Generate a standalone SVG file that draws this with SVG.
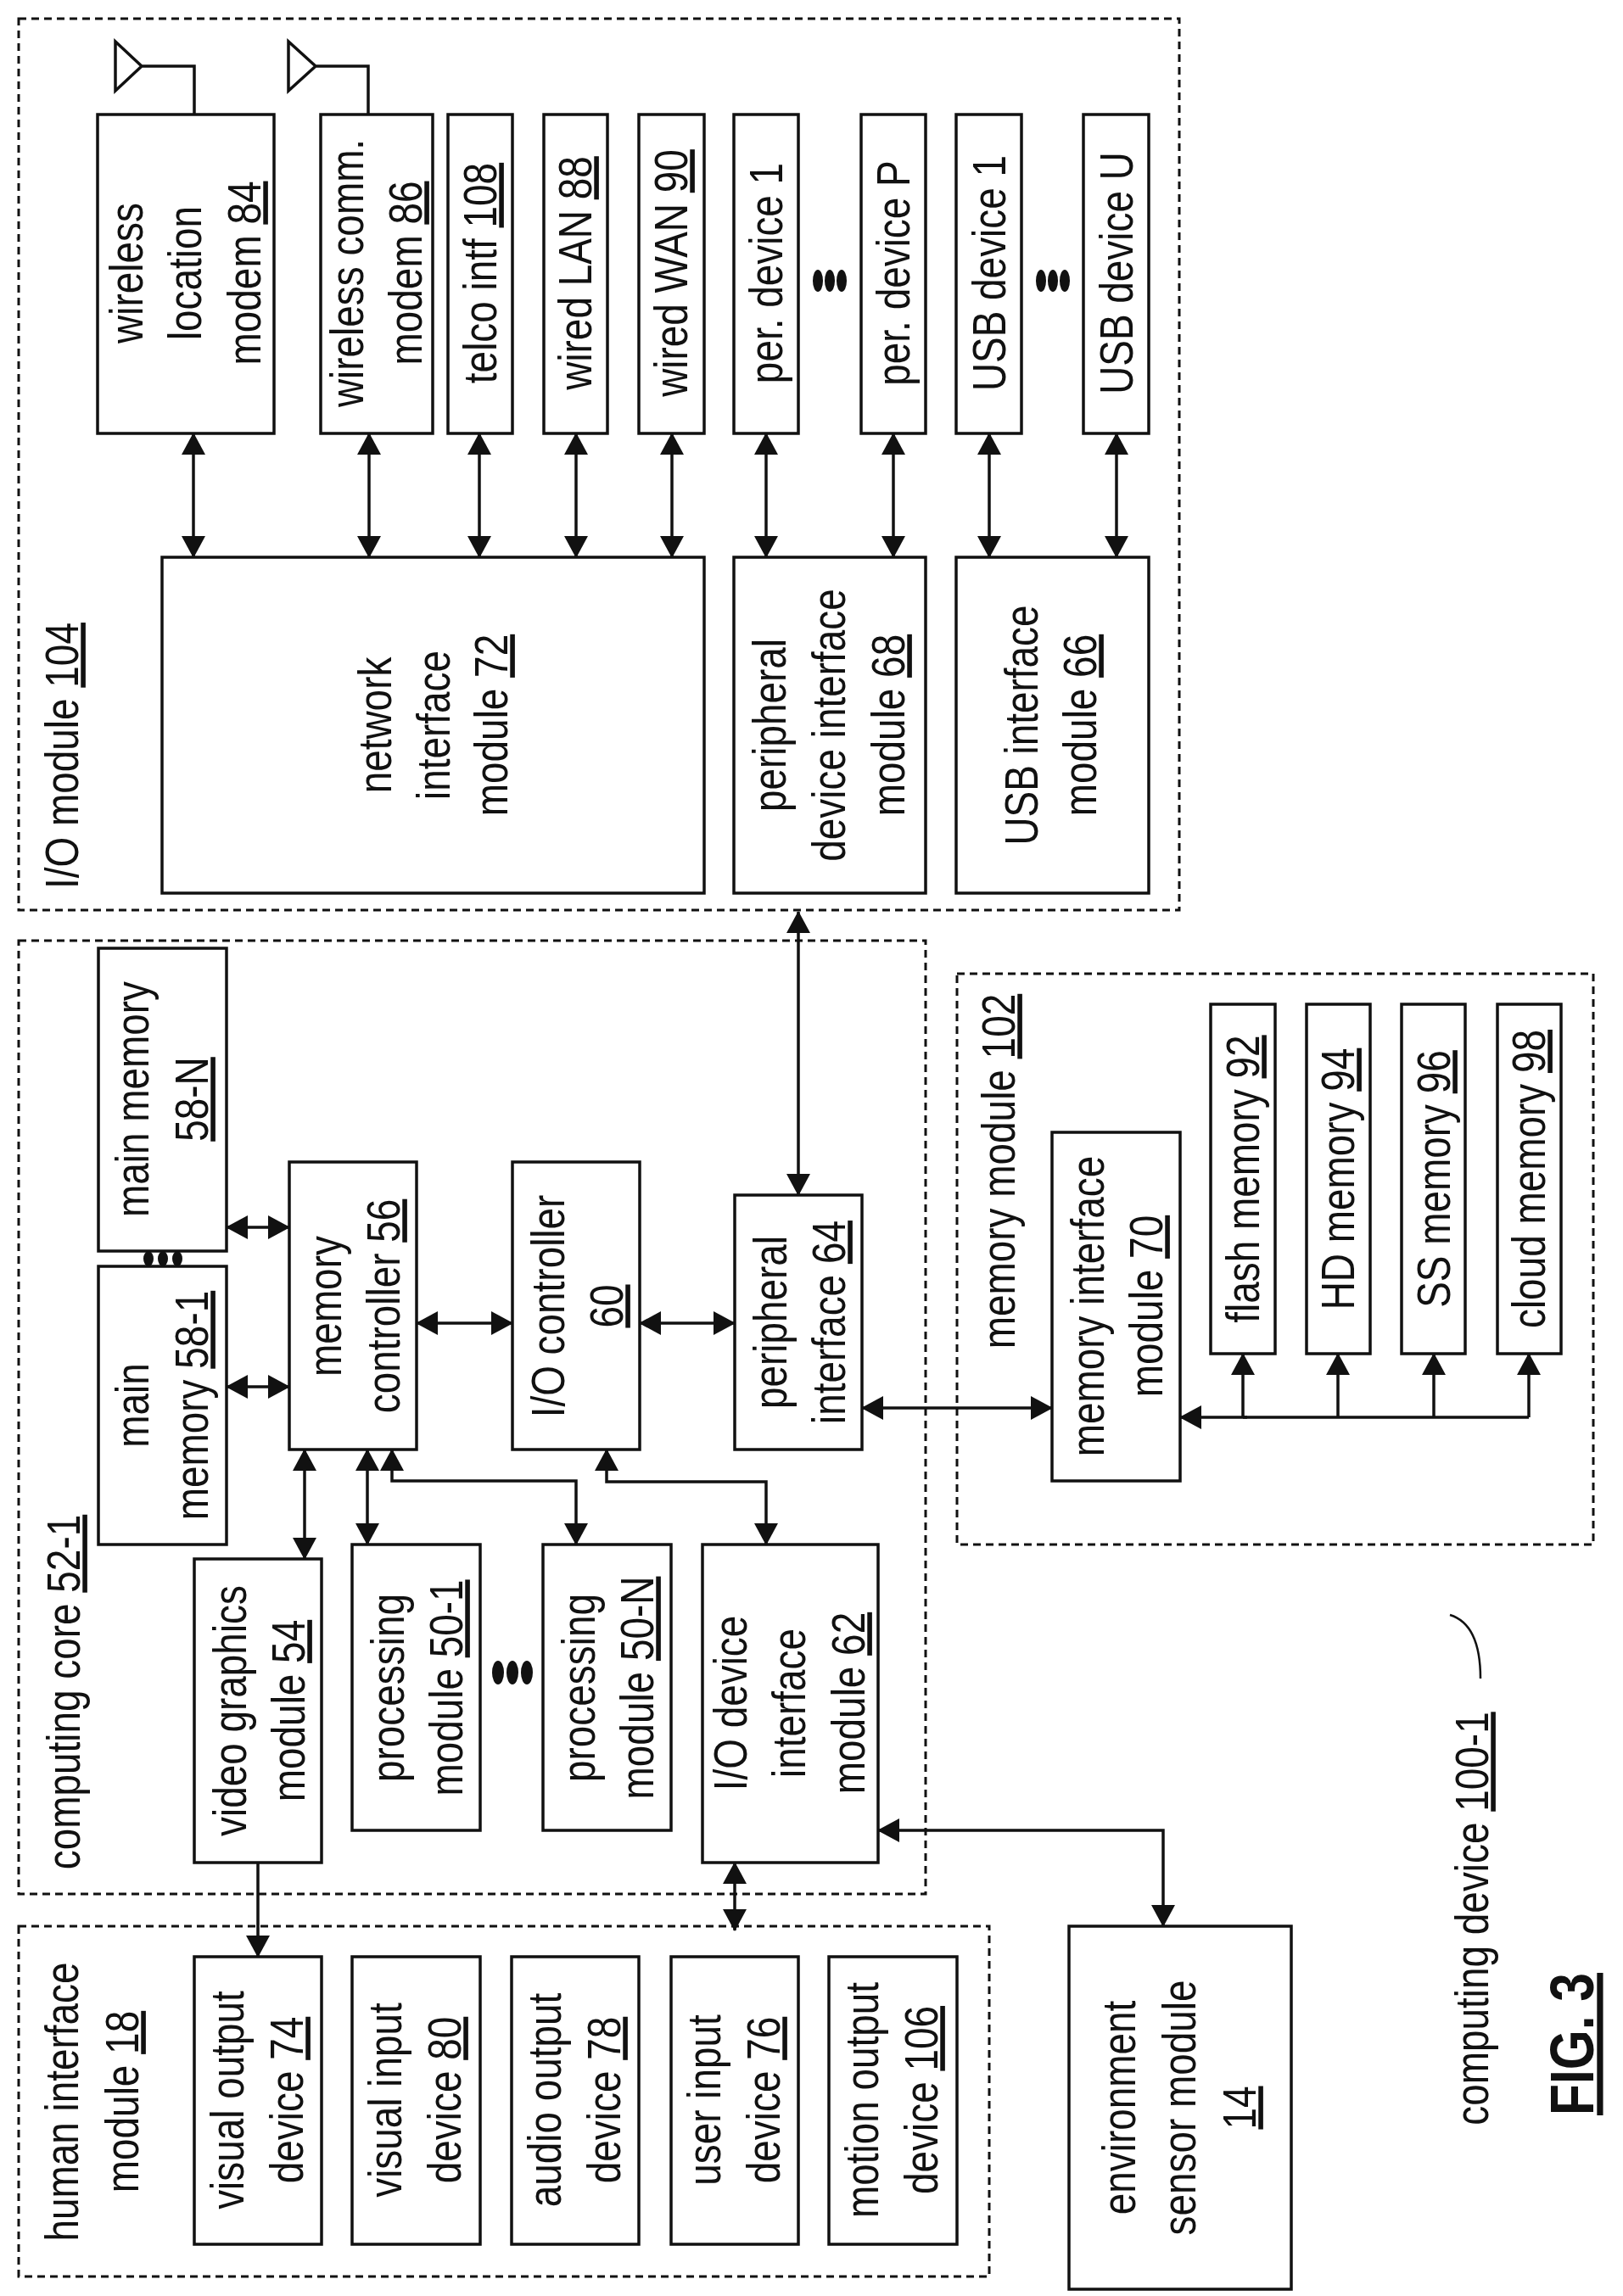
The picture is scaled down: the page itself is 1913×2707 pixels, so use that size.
<svg xmlns="http://www.w3.org/2000/svg" width="1913" height="2707" viewBox="0 0 1913 2707">
<style>
text{font-family:"Liberation Sans",Arial,sans-serif;font-size:56px;fill:#111;text-anchor:middle}
.u{text-decoration:underline}
.box{fill:#fff;stroke:#111;stroke-width:3.5}
.grp{fill:none;stroke:#111;stroke-width:3;stroke-dasharray:9,6}
.c{fill:none;stroke:#111;stroke-width:3.5}
.s{marker-start:url(#ah);marker-end:url(#ah)}
.e{marker-end:url(#ah)}
.dot{fill:#111}
.lbl text{text-anchor:middle}
</style>
<defs>
<marker id="ah" viewBox="0 0 26 28" refX="25" refY="14" markerWidth="26" markerHeight="28" markerUnits="userSpaceOnUse" orient="auto-start-reverse"><path d="M0,0 L26,14 L0,28 z" fill="#111"/></marker>
</defs>
<rect width="1913" height="2707" fill="#fff"/>

<!-- containers -->
<g id="io-module"><rect class="grp" x="22" y="22" width="1368" height="1051"/>
<g transform="translate(92,891) rotate(-90) scale(0.82,1)"><text>I/O module <tspan class="u">104</tspan></text></g></g>
<g id="computing-core"><rect class="grp" x="22" y="1109" width="1069" height="1124"/>
<g transform="translate(94,1995) rotate(-90) scale(0.82,1)"><text>computing core <tspan class="u">52-1</tspan></text></g></g>
<g id="memory-module"><rect class="grp" x="1128" y="1148" width="750" height="673"/>
<g transform="translate(1196,1381) rotate(-90) scale(0.82,1)"><text>memory module <tspan class="u">102</tspan></text></g></g>
<g id="human-interface"><rect class="grp" x="22" y="2271" width="1144" height="413"/>
<g transform="translate(92,2478) rotate(-90) scale(0.82,1)"><text>human interface</text><text y="71">module <tspan class="u">18</tspan></text></g></g>

<!-- I/O module nodes -->
<g id="n84"><rect class="box" x="115" y="135" width="208" height="376"/>
<path class="c" d="M136,49 L136,107 L167,78 Z M167,78 H229 V135"/>
<g transform="translate(219,322) rotate(-90) scale(0.82,1)"><text y="-51">wireless</text><text y="18">location</text><text y="88">modem <tspan class="u">84</tspan></text></g></g>
<g id="n86"><rect class="box" x="378" y="135" width="132" height="376"/>
<path class="c" d="M340,49 L340,107 L372,78 Z M372,78 H434 V135"/>
<g transform="translate(444,322) rotate(-90) scale(0.82,1)"><text y="-16">wireless comm.</text><text y="53">modem <tspan class="u">86</tspan></text></g></g>
<g id="n108"><rect class="box" x="528" y="135" width="76" height="376"/>
<g transform="translate(566,322) rotate(-90) scale(0.82,1)"><text y="19">telco intf <tspan class="u">108</tspan></text></g></g>
<g id="n88"><rect class="box" x="641" y="135" width="75" height="376"/>
<g transform="translate(678,322) rotate(-90) scale(0.82,1)"><text y="19">wired LAN <tspan class="u">88</tspan></text></g></g>
<g id="n90"><rect class="box" x="753" y="135" width="77" height="376"/>
<g transform="translate(791,322) rotate(-90) scale(0.82,1)"><text y="19">wired WAN <tspan class="u">90</tspan></text></g></g>
<g id="per1"><rect class="box" x="865" y="135" width="76" height="376"/>
<g transform="translate(903,322) rotate(-90) scale(0.82,1)"><text y="19">per. device 1</text></g></g>
<g id="perP"><rect class="box" x="1015" y="135" width="76" height="376"/>
<g transform="translate(1053,322) rotate(-90) scale(0.82,1)"><text y="19">per. device P</text></g></g>
<g id="usb1"><rect class="box" x="1127" y="135" width="77" height="376"/>
<g transform="translate(1166,322) rotate(-90) scale(0.82,1)"><text y="19">USB device 1</text></g></g>
<g id="usbU"><rect class="box" x="1277" y="135" width="77" height="376"/>
<g transform="translate(1316,322) rotate(-90) scale(0.82,1)"><text y="19">USB device U</text></g></g>
<g id="dots-top">
<ellipse class="dot" cx="964" cy="331" rx="6" ry="13"/><ellipse class="dot" cx="978" cy="331" rx="6" ry="13"/><ellipse class="dot" cx="992" cy="331" rx="6" ry="13"/>
<ellipse class="dot" cx="1227" cy="331" rx="6" ry="13"/><ellipse class="dot" cx="1241" cy="331" rx="6" ry="13"/><ellipse class="dot" cx="1255" cy="331" rx="6" ry="13"/>
</g>
<g id="n72"><rect class="box" x="191" y="657" width="639" height="396"/>
<g transform="translate(510,855) rotate(-90) scale(0.82,1)"><text y="-49">network</text><text y="20">interface</text><text y="88">module <tspan class="u">72</tspan></text></g></g>
<g id="n68"><rect class="box" x="865" y="657" width="226" height="396"/>
<g transform="translate(978,855) rotate(-90) scale(0.82,1)"><text y="-52">peripheral</text><text y="18">device interface</text><text y="88">module <tspan class="u">68</tspan></text></g></g>
<g id="n66"><rect class="box" x="1127" y="657" width="227" height="396"/>
<g transform="translate(1240,855) rotate(-90) scale(0.82,1)"><text y="-17">USB interface</text><text y="52">module <tspan class="u">66</tspan></text></g></g>

<!-- computing core nodes -->
<g id="n58N"><rect class="box" x="116" y="1118" width="151" height="357"/>
<g transform="translate(191,1296) rotate(-90) scale(0.82,1)"><text y="-16">main memory</text><text y="54"><tspan class="u">58-N</tspan></text></g></g>
<g id="n581"><rect class="box" x="116" y="1493" width="151" height="328"/>
<g transform="translate(191,1657) rotate(-90) scale(0.82,1)"><text y="-16">main</text><text y="54">memory <tspan class="u">58-1</tspan></text></g></g>
<g id="dots-mem"><ellipse class="dot" cx="175" cy="1484" rx="6" ry="9"/><ellipse class="dot" cx="192" cy="1484" rx="6" ry="9"/><ellipse class="dot" cx="209" cy="1484" rx="6" ry="9"/></g>
<g id="n56"><rect class="box" x="341" y="1370" width="150" height="339"/>
<g transform="translate(416,1540) rotate(-90) scale(0.82,1)"><text y="-14">memory</text><text y="55">controller <tspan class="u">56</tspan></text></g></g>
<g id="n60"><rect class="box" x="604" y="1370" width="150" height="339"/>
<g transform="translate(679,1540) rotate(-90) scale(0.82,1)"><text y="-14">I/O controller</text><text y="55"><tspan class="u">60</tspan></text></g></g>
<g id="n64"><rect class="box" x="866" y="1409" width="150" height="300"/>
<g transform="translate(941,1559) rotate(-90) scale(0.82,1)"><text y="-14">peripheral</text><text y="55">interface <tspan class="u">64</tspan></text></g></g>
<g id="n54"><rect class="box" x="229" y="1838" width="150" height="358"/>
<g transform="translate(304,2017) rotate(-90) scale(0.82,1)"><text y="-14">video graphics</text><text y="55">module <tspan class="u">54</tspan></text></g></g>
<g id="n501"><rect class="box" x="415" y="1821" width="151" height="337"/>
<g transform="translate(490,1990) rotate(-90) scale(0.82,1)"><text y="-14">processing</text><text y="55">module <tspan class="u">50-1</tspan></text></g></g>
<g id="dots-proc"><ellipse class="dot" cx="587" cy="1972" rx="7" ry="14"/><ellipse class="dot" cx="604" cy="1972" rx="7" ry="14"/><ellipse class="dot" cx="621" cy="1972" rx="7" ry="14"/></g>
<g id="n50N"><rect class="box" x="640" y="1821" width="151" height="337"/>
<g transform="translate(715,1990) rotate(-90) scale(0.82,1)"><text y="-14">processing</text><text y="55">module <tspan class="u">50-N</tspan></text></g></g>
<g id="n62"><rect class="box" x="828" y="1821" width="207" height="375"/>
<g transform="translate(931,2008) rotate(-90) scale(0.82,1)"><text y="-51">I/O device</text><text y="18">interface</text><text y="88">module <tspan class="u">62</tspan></text></g></g>

<!-- memory module nodes -->
<g id="n70"><rect class="box" x="1240" y="1335" width="151" height="411"/>
<g transform="translate(1315,1540) rotate(-90) scale(0.82,1)"><text y="-14">memory interface</text><text y="55">module <tspan class="u">70</tspan></text></g></g>
<g id="n92"><rect class="box" x="1427" y="1184" width="76" height="412"/>
<g transform="translate(1465,1390) rotate(-90) scale(0.82,1)"><text y="19">flash memory <tspan class="u">92</tspan></text></g></g>
<g id="n94"><rect class="box" x="1540" y="1184" width="75" height="412"/>
<g transform="translate(1577,1390) rotate(-90) scale(0.82,1)"><text y="19">HD memory <tspan class="u">94</tspan></text></g></g>
<g id="n96"><rect class="box" x="1652" y="1184" width="75" height="412"/>
<g transform="translate(1690,1390) rotate(-90) scale(0.82,1)"><text y="19">SS memory <tspan class="u">96</tspan></text></g></g>
<g id="n98"><rect class="box" x="1765" y="1184" width="75" height="412"/>
<g transform="translate(1802,1390) rotate(-90) scale(0.82,1)"><text y="19">cloud memory <tspan class="u">98</tspan></text></g></g>

<!-- human interface nodes -->
<g id="n74"><rect class="box" x="229" y="2307" width="150" height="339"/>
<g transform="translate(304,2476) rotate(-90) scale(0.82,1)"><text y="-17">visual output</text><text y="53">device <tspan class="u">74</tspan></text></g></g>
<g id="n80"><rect class="box" x="415" y="2307" width="151" height="339"/>
<g transform="translate(490,2476) rotate(-90) scale(0.82,1)"><text y="-17">visual input</text><text y="53">device <tspan class="u">80</tspan></text></g></g>
<g id="n78"><rect class="box" x="603" y="2307" width="150" height="339"/>
<g transform="translate(678,2476) rotate(-90) scale(0.82,1)"><text y="-17">audio output</text><text y="53">device <tspan class="u">78</tspan></text></g></g>
<g id="n76"><rect class="box" x="791" y="2307" width="150" height="339"/>
<g transform="translate(866,2476) rotate(-90) scale(0.82,1)"><text y="-17">user input</text><text y="53">device <tspan class="u">76</tspan></text></g></g>
<g id="n106"><rect class="box" x="977" y="2307" width="151" height="339"/>
<g transform="translate(1052,2476) rotate(-90) scale(0.82,1)"><text y="-17">motion output</text><text y="53">device <tspan class="u">106</tspan></text></g></g>

<g id="n14"><rect class="box" x="1260" y="2271" width="262" height="428"/>
<g transform="translate(1391,2485) rotate(-90) scale(0.82,1)"><text y="-53">environment</text><text y="18">sensor module</text><text y="89"><tspan class="u">14</tspan></text></g></g>

<g id="caption">
<path d="M1709,1904 Q1745,1915 1745,1979" fill="none" stroke="#111" stroke-width="2.5"/>
<g transform="translate(1754,2262) rotate(-90) scale(0.82,1)"><text>computing device <tspan class="u">100-1</tspan></text></g>
<g transform="translate(1878,2410) rotate(-90) scale(0.84,1)"><text style="font-size:72px;font-weight:bold" class="u">FIG. 3</text></g>
</g>

<!-- connectors -->
<g id="connectors">
<path class="c s" d="M228,511 V657"/>
<path class="c s" d="M435,511 V657"/>
<path class="c s" d="M565,511 V657"/>
<path class="c s" d="M679,511 V657"/>
<path class="c s" d="M792,511 V657"/>
<path class="c s" d="M903,511 V657"/>
<path class="c s" d="M1053,511 V657"/>
<path class="c s" d="M1166,511 V657"/>
<path class="c s" d="M1316,511 V657"/>
<path class="c s" d="M941,1075 V1409"/>
<path class="c s" d="M267,1447 H341"/>
<path class="c s" d="M267,1635 H341"/>
<path class="c s" d="M491,1560 H604"/>
<path class="c s" d="M754,1560 H866"/>
<path class="c s" d="M1016,1660 H1240"/>
<path class="c" d="M1802,1671 H1465"/>
<path class="c e" d="M1470,1671 H1391"/>
<path class="c e" d="M1465,1671 V1596"/>
<path class="c e" d="M1577,1671 V1596"/>
<path class="c e" d="M1690,1671 V1596"/>
<path class="c e" d="M1802,1671 V1596"/>
<path class="c s" d="M359,1709 V1838"/>
<path class="c s" d="M433,1709 V1821"/>
<path class="c s" d="M462,1709 V1746 H679 V1821"/>
<path class="c s" d="M715,1709 V1747 H903 V1821"/>
<path class="c e" d="M304,2196 V2307"/>
<path class="c s" d="M866,2196 V2276"/>
<path class="c s" d="M1035,2158 H1371 V2271"/>
</g>
</svg>
